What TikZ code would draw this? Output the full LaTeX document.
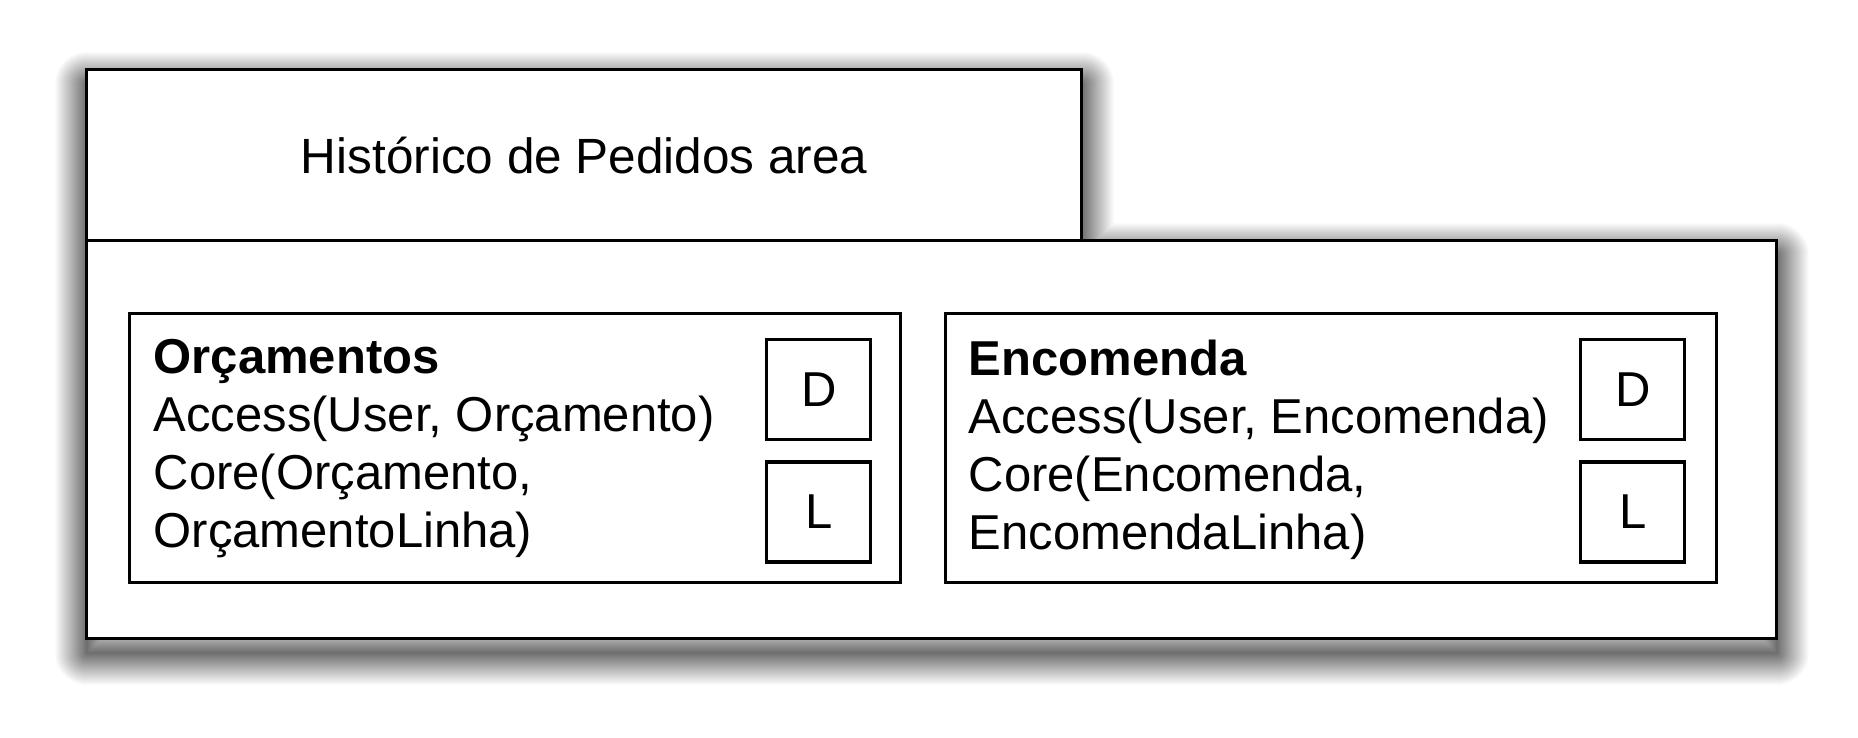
\documentclass[tikz,border=0pt]{standalone}
\usepackage{fontspec}
\setmainfont{Liberation Sans}
\usetikzlibrary{positioning}

\begin{document}
\begin{tikzpicture}[
  x=1pt, y=-1pt, line width=3.4pt,
  box/.style={draw, fill=white, inner sep=0pt, anchor=north west},
  unit/.style={box, minimum width=771pt, minimum height=269pt},
  letter/.style={draw, inner sep=0pt, minimum width=104pt, minimum height=100pt, font=\fontsize{49}{58}\selectfont},
  body/.style={align=left, inner sep=0pt, anchor=north west, font=\fontsize{49}{58}\selectfont},
]
  \useasboundingbox (0,0) rectangle (1858,737);
  % soft shadow
  \foreach \w in {64,62,...,2} {
    \pgfmathsetmacro\g{56*(66-\w)/64}
    \draw[line width=\w pt, draw=black!\g, line join=round]
      (87,84) -- (1082,84) -- (1082,255) -- (1777,255) -- (1777,653) -- (87,653) -- cycle;
  }
  \node[box, minimum width=995pt, minimum height=171pt, font=\fontsize{49.5}{58}\selectfont] (tab) at (85,68) {Histórico de Pedidos area};
  \node[box, minimum width=1690pt, minimum height=398pt] (area) at (85,239) {};
  % left unit
  \node[unit] (orc) at (128,312) {};
  \node[body] (orcTxt) at ([xshift=24pt, yshift=-26pt]orc.north west) {\textbf{Orçamentos}\\Access(User, Orçamento)\\Core(Orçamento,\\OrçamentoLinha)};
  \node[letter, anchor=north east] (orcD) at ([xshift=-30pt, yshift=-26pt]orc.north east) {D};
  \node[letter, below=19pt of orcD] (orcL) {L};
  % right unit
  \node[unit] (enc) at (944,312) {};
  \node[body] (encTxt) at ([xshift=23pt, yshift=-26pt]enc.north west) {\textbf{Encomenda}\\Access(User, Encomenda)\\Core(Encomenda,\\EncomendaLinha)};
  \node[letter, anchor=north east] (encD) at ([xshift=-32pt, yshift=-26pt]enc.north east) {D};
  \node[letter, below=19pt of encD] (encL) {L};
\end{tikzpicture}
\end{document}
